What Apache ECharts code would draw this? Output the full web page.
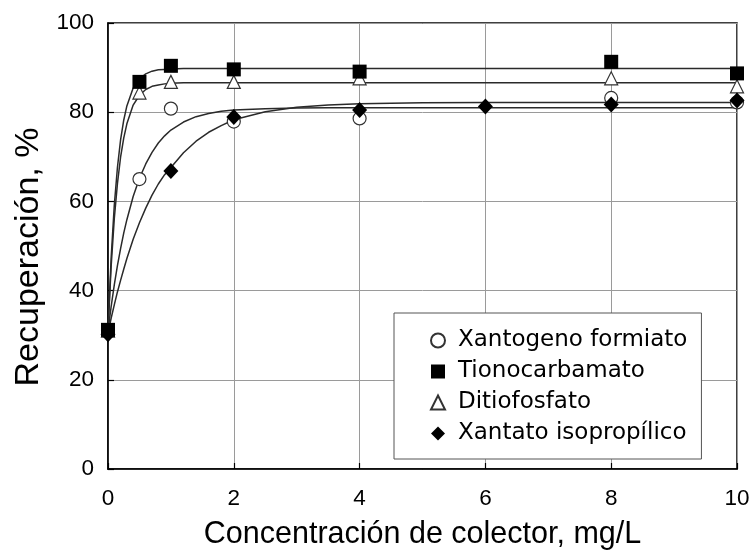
<!DOCTYPE html>
<html>
<head>
<meta charset="utf-8">
<script src="https://cdn.jsdelivr.net/npm/echarts@6/dist/echarts.min.js"></script>
<style>
  html, body { margin: 0; padding: 0; background: #fff; }
  #chart { width: 753px; height: 550px; }
</style>
</head>
<body>
<div id="chart"></div>
<script>
// Collector concentration (mg/L) and measured recovery (%) per collector
const xantogenoX = [0, 0.5, 1, 2, 4, 8, 10];
const xantogenoY = [31, 65, 80.8, 77.9, 78.6, 83.2, 82.2];

const tionoX = [0, 0.5, 1, 2, 4, 8, 10];
const tionoY = [31.2, 86.8, 90.4, 89.6, 89.1, 91.3, 88.7];

const ditioX = [0, 0.5, 1, 2, 4, 8, 10];
const ditioY = [31, 84.4, 86.8, 86.8, 87.6, 87.6, 85.8];

const xantatoX = [0, 1, 2, 4, 6, 8, 10];
const xantatoY = [30.2, 66.8, 78.9, 80.5, 81.3, 81.7, 82.6];

// Fitted trend curves, sampled along the concentration axis
const fitX = [0, 0.05, 0.1, 0.15, 0.2, 0.25, 0.3, 0.4, 0.5, 0.6, 0.7, 0.8, 0.9, 1, 1.2, 1.4, 1.6, 1.8, 2, 2.5, 3, 3.5, 4, 5, 6, 8, 10];
const fitTiono = [31, 47.3, 59.1, 67.6, 73.8, 78.2, 81.4, 85.4, 87.5, 88.6, 89.2, 89.5, 89.6, 89.7, 89.8, 89.8, 89.8, 89.8, 89.8, 89.8, 89.8, 89.8, 89.8, 89.8, 89.8, 89.8, 89.8];
const fitDitio = [31, 45.4, 56.1, 64.0, 69.9, 74.2, 77.4, 81.6, 83.8, 85.1, 85.8, 86.1, 86.35, 86.5, 86.6, 86.6, 86.6, 86.6, 86.6, 86.6, 86.6, 86.6, 86.6, 86.6, 86.6, 86.6, 86.6];
const fitXantogeno = [31, 36.4, 41.3, 45.6, 49.4, 52.9, 55.9, 61.1, 65.2, 68.4, 71.0, 73.1, 74.7, 76.0, 77.8, 79.0, 79.7, 80.2, 80.5, 80.8, 80.95, 81, 81, 81, 81, 81, 81];
const fitXantato = [30.5, 33.8, 36.8, 39.7, 42.3, 44.8, 47.2, 51.5, 55.2, 58.5, 61.4, 63.9, 66.0, 67.6, 70.9, 73.5, 75.5, 77.0, 78.3, 80.1, 81.1, 81.6, 81.9, 82.1, 82.2, 82.2, 82.2];

const seriesNames = ['Xantogeno formiato', 'Tionocarbamato', 'Ditiofosfato', 'Xantato isopropílico'];
const xTicks = [0, 2, 4, 6, 8, 10];
const yTicks = [0, 20, 40, 60, 80, 100];

const ARIAL = "'Liberation Sans', Arial, Helvetica, sans-serif";
const VERDANA = "'DejaVu Sans', Verdana, sans-serif";

const pairs = (xs, ys) => xs.map((x, i) => [x, ys[i]]);

const curve = (ys) => ({
  type: 'line',
  data: pairs(fitX, ys),
  smooth: false,
  showSymbol: false,
  silent: true,
  z: 2,
  lineStyle: { color: '#2a2a2a', width: 1.5 }
});

const chart = echarts.init(document.getElementById('chart'), null, { renderer: 'canvas' });

chart.setOption({
  animation: false,
  backgroundColor: '#fff',
  grid: {
    left: 108, right: 16, top: 23, bottom: 81,
    outerBoundsMode: 'none',
    containLabel: false,
    show: true, borderColor: '#000', borderWidth: 1.5
  },
  xAxis: {
    type: 'value',
    min: xTicks[0], max: xTicks[xTicks.length - 1], interval: 2,
    name: 'Concentración de colector, mg/L',
    nameLocation: 'middle',
    nameGap: 50,
    nameTextStyle: { fontSize: 30.5, color: '#000', fontFamily: ARIAL },
    axisLine: { show: true, lineStyle: { color: '#000', width: 1.5 } },
    axisTick: { show: true, inside: true, length: 6, lineStyle: { color: '#000', width: 1.2 } },
    axisLabel: { fontSize: 22.5, color: '#000', margin: 18, fontFamily: ARIAL },
    splitLine: { show: true, lineStyle: { color: '#9a9a9a', width: 1 } }
  },
  yAxis: {
    type: 'value',
    min: yTicks[0], max: yTicks[yTicks.length - 1], interval: 20,
    name: 'Recuperación, %',
    nameLocation: 'middle',
    nameGap: 60,
    nameTextStyle: { fontSize: 34, color: '#000', fontFamily: ARIAL, padding: [0, 22, 0, 0] },
    axisLine: { show: true, lineStyle: { color: '#000', width: 1.5 } },
    axisTick: { show: true, inside: true, length: 6, lineStyle: { color: '#000', width: 1.2 } },
    axisLabel: { fontSize: 22.5, color: '#000', margin: 14, fontFamily: ARIAL },
    splitLine: { show: true, lineStyle: { color: '#9a9a9a', width: 1 } }
  },
  legend: {
    orient: 'vertical',
    left: 394,
    top: 313,
    backgroundColor: '#fff',
    borderColor: '#555',
    borderWidth: 1,
    padding: [16, 14, 14, 36],
    itemGap: 8,
    itemWidth: 14,
    itemHeight: 14,
    textStyle: { fontSize: 23, color: '#000', fontFamily: VERDANA, padding: [0, 0, 0, 8] },
    data: seriesNames
  },
  series: [
    curve(fitXantogeno),
    curve(fitTiono),
    curve(fitDitio),
    curve(fitXantato),
    {
      name: seriesNames[0], type: 'scatter', z: 3,
      data: pairs(xantogenoX, xantogenoY),
      symbol: 'circle', symbolSize: 13,
      itemStyle: { color: '#fff', borderColor: '#333', borderWidth: 1.2, opacity: 1 }
    },
    {
      name: seriesNames[2], type: 'scatter', z: 3,
      data: pairs(ditioX, ditioY),
      symbol: 'triangle', symbolSize: 13,
      itemStyle: { color: '#fff', borderColor: '#333', borderWidth: 1.2, opacity: 1 }
    },
    {
      name: seriesNames[1], type: 'scatter', z: 4,
      data: pairs(tionoX, tionoY),
      symbol: 'rect', symbolSize: 14,
      itemStyle: { color: '#000', borderColor: '#000', borderWidth: 0, opacity: 1 }
    },
    {
      name: seriesNames[3], type: 'scatter', z: 4,
      data: pairs(xantatoX, xantatoY),
      symbol: 'diamond', symbolSize: [15, 16],
      itemStyle: { color: '#000', borderColor: '#000', borderWidth: 0, opacity: 1 }
    }
  ]
});
</script>
</body>
</html>
